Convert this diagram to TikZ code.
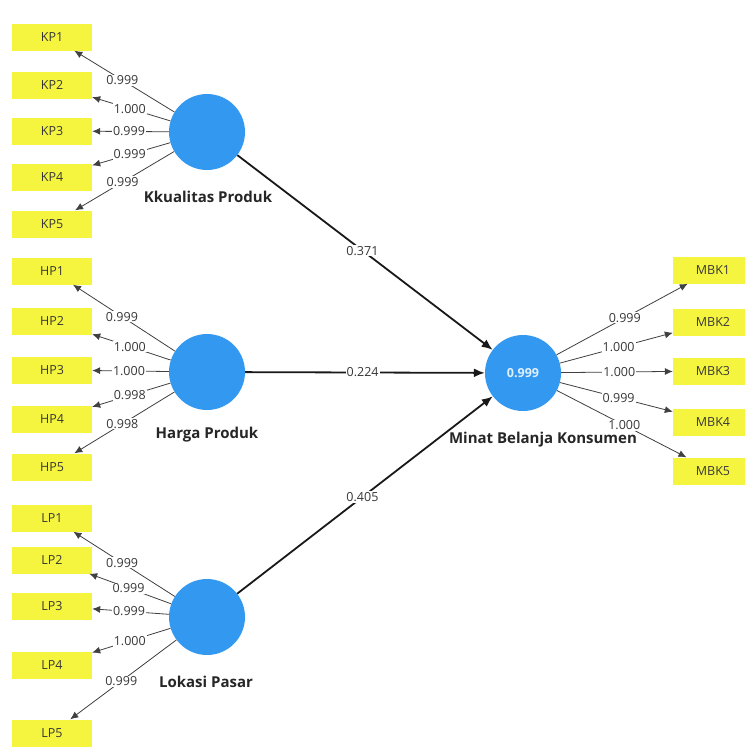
\documentclass[tikz,border=0pt]{standalone}
\usepackage{fontspec}
\setmainfont{Open Sans}
\usetikzlibrary{arrows.meta}
\definecolor{lvblue}{RGB}{51,153,240}
\definecolor{indyellow}{RGB}{245,245,63}
\definecolor{txtgray}{RGB}{55,55,55}
\tikzset{
  lv/.style={circle,fill=lvblue,minimum size=76pt,inner sep=0pt},
  ind/.style={rectangle,fill=indyellow,minimum width=80pt,minimum height=27pt,inner sep=0pt,font=\fontsize{12.5}{14}\selectfont,text=txtgray},
  lvname/.style={font=\bfseries\fontsize{15}{17}\selectfont,text=black!85},
  load/.style={-{Latex[length=8pt,width=7pt]},line width=0.8pt,draw=black!75},
  path/.style={-{Latex[length=11pt,width=9pt]},line width=1.8pt,draw=black!90},
  wl/.style={fill=white,inner sep=1pt,font=\fontsize{12.5}{14}\selectfont,text=txtgray},
}
\begin{document}
\begin{tikzpicture}[x=1pt,y=-1pt]
\useasboundingbox[fill=white] (0,0) rectangle (745,748);
% latent variables
\node[lv] (KP) at (207,132) {};
\node[lv] (HP) at (207,372) {};
\node[lv] (LP) at (207,617) {};
\node[lv] (MBK) at (523,373) {\textcolor{white!85!lvblue}{\bfseries\fontsize{12.5}{14}\selectfont 0.999}};
\node[lvname] (nKP) at (208,197) {Kkualitas Produk};
\node[lvname] (nHP) at (207,435) {Harga Produk};
\node[lvname] (nLP) at (206,682) {Lokasi Pasar};
\node[lvname] (nMBK) at (543,440) {Minat Belanja Konsumen};
% indicators
\node[ind] (KP1) at (52,37) {KP1};
\node[ind] (KP2) at (52,85) {KP2};
\node[ind] (KP3) at (52,131) {KP3};
\node[ind] (KP4) at (52,177) {KP4};
\node[ind] (KP5) at (52,224) {KP5};
\node[ind] (HP1) at (52,271) {HP1};
\node[ind] (HP2) at (52,321) {HP2};
\node[ind] (HP3) at (52,370) {HP3};
\node[ind] (HP4) at (52,419) {HP4};
\node[ind] (HP5) at (52,467) {HP5};
\node[ind] (LP1) at (52,518) {LP1};
\node[ind] (LP2) at (52,560) {LP2};
\node[ind] (LP3) at (52,606) {LP3};
\node[ind] (LP4) at (52,665) {LP4};
\node[ind] (LP5) at (52,733) {LP5};
\node[ind] (MBK1) at (713,270) {MBK1};
\node[ind] (MBK2) at (713,322) {MBK2};
\node[ind] (MBK3) at (713,371) {MBK3};
\node[ind] (MBK4) at (713,422) {MBK4};
\node[ind] (MBK5) at (713,471) {MBK5};
% loadings
\draw[load] (KP) -- node[wl,pos=0.52]{0.999} (KP1);
\draw[load] (KP) -- node[wl,pos=0.52]{1.000} (KP2);
\draw[load] (KP) -- node[wl,pos=0.52]{0.999} (KP3);
\draw[load] (KP) -- node[wl,pos=0.52]{0.999} (KP4);
\draw[load] (KP) -- node[wl,pos=0.52]{0.999} (KP5);
\draw[load] (HP) -- node[wl,pos=0.52]{0.999} (HP1);
\draw[load] (HP) -- node[wl,pos=0.52]{1.000} (HP2);
\draw[load] (HP) -- node[wl,pos=0.52]{1.000} (HP3);
\draw[load] (HP) -- node[wl,pos=0.52]{0.998} (HP4);
\draw[load] (HP) -- node[wl,pos=0.52]{0.998} (HP5);
\draw[load] (LP) -- node[wl,pos=0.52]{0.999} (LP1);
\draw[load] (LP) -- node[wl,pos=0.52]{0.999} (LP2);
\draw[load] (LP) -- node[wl,pos=0.52]{0.999} (LP3);
\draw[load] (LP) -- node[wl,pos=0.52]{1.000} (LP4);
\draw[load] (LP) -- node[wl,pos=0.52]{0.999} (LP5);
\draw[load] (MBK) -- node[wl,pos=0.52]{0.999} (MBK1);
\draw[load] (MBK) -- node[wl,pos=0.52]{1.000} (MBK2);
\draw[load] (MBK) -- node[wl,pos=0.52]{1.000} (MBK3);
\draw[load] (MBK) -- node[wl,pos=0.52]{0.999} (MBK4);
\draw[load] (MBK) -- node[wl,pos=0.52]{1.000} (MBK5);
% structural paths
\draw[path] (KP) -- node[wl,pos=0.49]{0.371} (MBK);
\draw[path] (HP) -- node[wl,pos=0.49]{0.224} (MBK);
\draw[path] (LP) -- node[wl,pos=0.49]{0.405} (MBK);
\end{tikzpicture}
\end{document}
